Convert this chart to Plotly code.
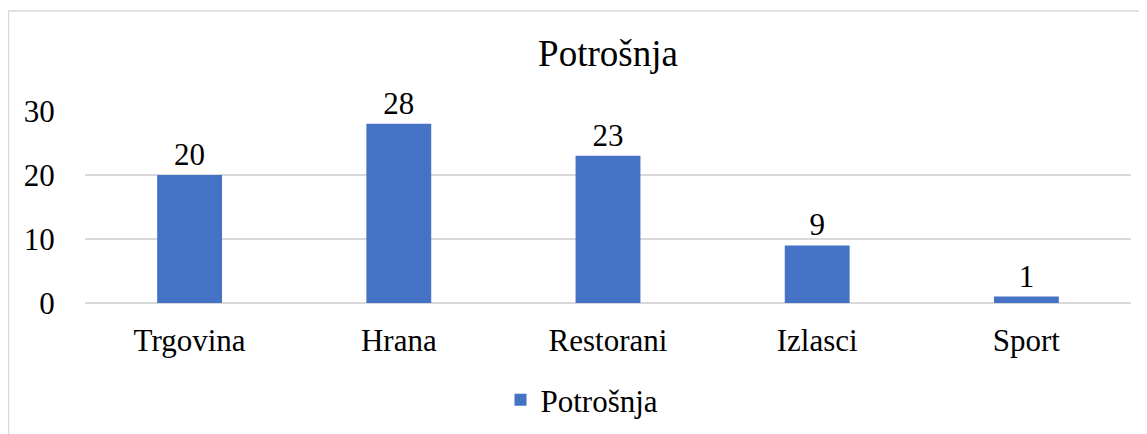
import plotly.graph_objects as go

categories = ["Trgovina", "Hrana", "Restorani", "Izlasci", "Sport"]
values = [20, 28, 23, 9, 1]
series_name = "Potrošnja"
title_text = "Potrošnja"
y_ticks = [0, 10, 20, 30]

FONT = "Liberation Serif"
# page body has an 8px margin, so figure coordinates = screen - 8
W, H = 1139, 426
L, R, T, B = 77, 16, 103, 131
pw, ph = W - L - R, H - T - B

def px_x(x):
    return (x - L) / pw

def px_y(y):
    return (H - B - y) / ph

fig = go.Figure()
fig.add_trace(go.Bar(
    x=categories, y=values, name=series_name,
    marker=dict(color="#4472C4", line=dict(width=0)),
    text=values, textposition="outside", cliponaxis=False,
    textfont=dict(family=FONT, size=31, color="#000000"),
    showlegend=True,
))

fig.update_layout(
    width=W, height=H,
    margin=dict(l=L, r=R, t=T, b=B, autoexpand=False),
    paper_bgcolor="white", plot_bgcolor="white",
    font=dict(family=FONT, size=31, color="#000000"),
    title=dict(text=title_text, x=0.5, xanchor="center", xref="paper",
               y=1 - 45 / H, yref="container", yanchor="middle",
               font=dict(family=FONT, size=37, color="#000000")),
    bargap=0.69,
    showlegend=True,
    legend=dict(orientation="h", x=px_x(574), xanchor="center", y=px_y(392), yanchor="middle",
                font=dict(family=FONT, size=31, color="#000000"), itemwidth=30,
                bgcolor="rgba(0,0,0,0)"),
    xaxis=dict(showgrid=False, showline=False, zeroline=False,
               ticks="outside", ticklen=10, tickcolor="rgba(0,0,0,0)",
               tickfont=dict(family=FONT, size=31, color="#000000")),
    yaxis=dict(range=[0, 30], tickvals=y_ticks, showgrid=True, gridcolor="#D9D9D9",
               gridwidth=1.5, zeroline=True, zerolinecolor="#D9D9D9", zerolinewidth=1.5,
               showline=False, ticks="outside", ticklen=23, tickcolor="rgba(0,0,0,0)",
               tickfont=dict(family=FONT, size=31, color="#000000")),
    shapes=[dict(type="rect", xref="paper", yref="paper",
                 x0=px_x(0.5), x1=px_x(1160), y0=px_y(450), y1=px_y(3),
                 line=dict(color="#D9D9D9", width=1.5), fillcolor="rgba(0,0,0,0)", layer="below")],
)

fig.write_html("out.html")
